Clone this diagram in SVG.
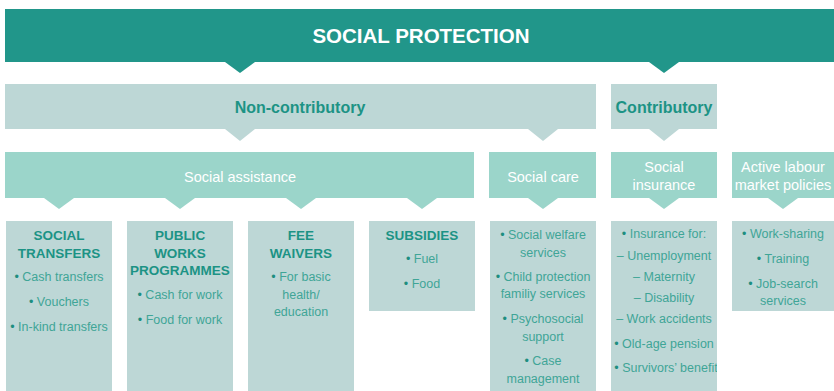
<svg xmlns="http://www.w3.org/2000/svg" width="834" height="391" viewBox="0 0 834 391">
<style>
.banner{fill:#21968A}
.light{fill:#BDD7D6}
.mint{fill:#9BD5CA}
.title{font-family:"Liberation Sans",Arial,sans-serif;font-weight:bold;font-size:20.5px;fill:#ffffff;text-anchor:middle}
.h1{font-family:"Liberation Sans",Arial,sans-serif;font-weight:bold;font-size:16px;fill:#1C9385;text-anchor:middle}
.h2{font-family:"Liberation Sans",Arial,sans-serif;font-size:14.5px;fill:#ffffff;text-anchor:middle}
.h3{font-family:"Liberation Sans",Arial,sans-serif;font-weight:bold;font-size:13.5px;fill:#1C9385;text-anchor:middle}
.t{font-family:"Liberation Sans",Arial,sans-serif;font-size:12.5px;fill:#3FA597;text-anchor:middle}
.b{fill:#1D8E80}
</style>
<defs>
<clipPath id="clipSI"><rect x="611" y="221" width="106" height="170"/></clipPath>
</defs>

<g id="connectors">
<path class="banner" d="M225 62 L255 62 L240 73 Z"/>
<path class="banner" d="M649 62 L679 62 L664 73 Z"/>
<path class="light" d="M225 129 L255 129 L240 141 Z"/>
<path class="light" d="M528 129 L558 129 L543 141 Z"/>
<path class="light" d="M649 129 L679 129 L664 141 Z"/>
<path class="mint" d="M44 198 L74 198 L59 209 Z"/>
<path class="mint" d="M165 198 L195 198 L180 209 Z"/>
<path class="mint" d="M286 198 L316 198 L301 209 Z"/>
<path class="mint" d="M407 198 L437 198 L422 209 Z"/>
<path class="mint" d="M528 198 L558 198 L543 209 Z"/>
<path class="mint" d="M649 198 L679 198 L664 209 Z"/>
<path class="mint" d="M768 198 L798 198 L783 209 Z"/>
</g>

<g id="social-protection">
<rect class="banner" x="5" y="9" width="829" height="53"/>
<text class="title" x="421" y="43">SOCIAL PROTECTION</text>
</g>

<g id="non-contributory">
<rect class="light" x="5" y="84" width="591" height="45"/>
<text class="h1" x="300" y="113">Non-contributory</text>
</g>
<g id="contributory">
<rect class="light" x="611" y="84" width="106" height="45"/>
<text class="h1" x="664" y="113">Contributory</text>
</g>

<g id="social-assistance">
<rect class="mint" x="5" y="152" width="469" height="46"/>
<text class="h2" x="240" y="182">Social assistance</text>
</g>
<g id="social-care">
<rect class="mint" x="489" y="152" width="107" height="46"/>
<text class="h2" x="543" y="182">Social care</text>
</g>
<g id="social-insurance">
<rect class="mint" x="611" y="152" width="106" height="46"/>
<text class="h2" x="664" y="172">Social</text>
<text class="h2" x="664" y="190">insurance</text>
</g>
<g id="active-labour">
<rect class="mint" x="732" y="152" width="102" height="46"/>
<text class="h2" x="783" y="172">Active labour</text>
<text class="h2" x="783" y="190">market policies</text>
</g>

<g id="social-transfers">
<rect class="light" x="6" y="221" width="106" height="170"/>
<text class="h3" x="59" y="240">SOCIAL</text>
<text class="h3" x="59" y="258">TRANSFERS</text>
<text class="t" x="59" y="281"><tspan class="b">•</tspan> Cash transfers</text>
<text class="t" x="59" y="306"><tspan class="b">•</tspan> Vouchers</text>
<text class="t" x="59" y="331"><tspan class="b">•</tspan> In-kind transfers</text>
</g>

<g id="public-works">
<rect class="light" x="127" y="221" width="106" height="170"/>
<text class="h3" x="180" y="240">PUBLIC</text>
<text class="h3" x="180" y="258">WORKS</text>
<text class="h3" x="180" y="275">PROGRAMMES</text>
<text class="t" x="180" y="299"><tspan class="b">•</tspan> Cash for work</text>
<text class="t" x="180" y="324"><tspan class="b">•</tspan> Food for work</text>
</g>

<g id="fee-waivers">
<rect class="light" x="248" y="221" width="106" height="170"/>
<text class="h3" x="301" y="240">FEE</text>
<text class="h3" x="301" y="258">WAIVERS</text>
<text class="t" x="301" y="281"><tspan class="b">•</tspan> For basic</text>
<text class="t" x="301" y="299">health/</text>
<text class="t" x="301" y="316">education</text>
</g>

<g id="subsidies">
<rect class="light" x="369" y="221" width="106" height="90"/>
<text class="h3" x="422" y="240">SUBSIDIES</text>
<text class="t" x="422" y="263"><tspan class="b">•</tspan> Fuel</text>
<text class="t" x="422" y="288"><tspan class="b">•</tspan> Food</text>
</g>

<g id="social-care-items">
<rect class="light" x="490" y="221" width="106" height="170"/>
<text class="t" x="543" y="239"><tspan class="b">•</tspan> Social welfare</text>
<text class="t" x="543" y="257">services</text>
<text class="t" x="543" y="281"><tspan class="b">•</tspan> Child protection</text>
<text class="t" x="543" y="298">familiy services</text>
<text class="t" x="543" y="323"><tspan class="b">•</tspan> Psychosocial</text>
<text class="t" x="543" y="341">support</text>
<text class="t" x="543" y="365"><tspan class="b">•</tspan> Case</text>
<text class="t" x="543" y="383">management</text>
</g>

<g id="social-insurance-items">
<rect class="light" x="611" y="221" width="106" height="170"/>
<g clip-path="url(#clipSI)">
<text class="t" x="664" y="238"><tspan class="b">•</tspan> Insurance for:</text>
<text class="t" x="664" y="260">– Unemployment</text>
<text class="t" x="664" y="281">– Maternity</text>
<text class="t" x="664" y="302">– Disability</text>
<text class="t" x="664" y="323">– Work accidents</text>
<text class="t" x="664" y="348"><tspan class="b">•</tspan> Old-age pension</text>
<text class="t" x="666" y="372"><tspan class="b">•</tspan> Survivors’ benefit</text>
</g>
</g>

<g id="active-labour-items">
<rect class="light" x="732" y="221" width="102" height="90"/>
<text class="t" x="783" y="238"><tspan class="b">•</tspan> Work-sharing</text>
<text class="t" x="783" y="263"><tspan class="b">•</tspan> Training</text>
<text class="t" x="783" y="288"><tspan class="b">•</tspan> Job-search</text>
<text class="t" x="783" y="305">services</text>
</g>
</svg>
